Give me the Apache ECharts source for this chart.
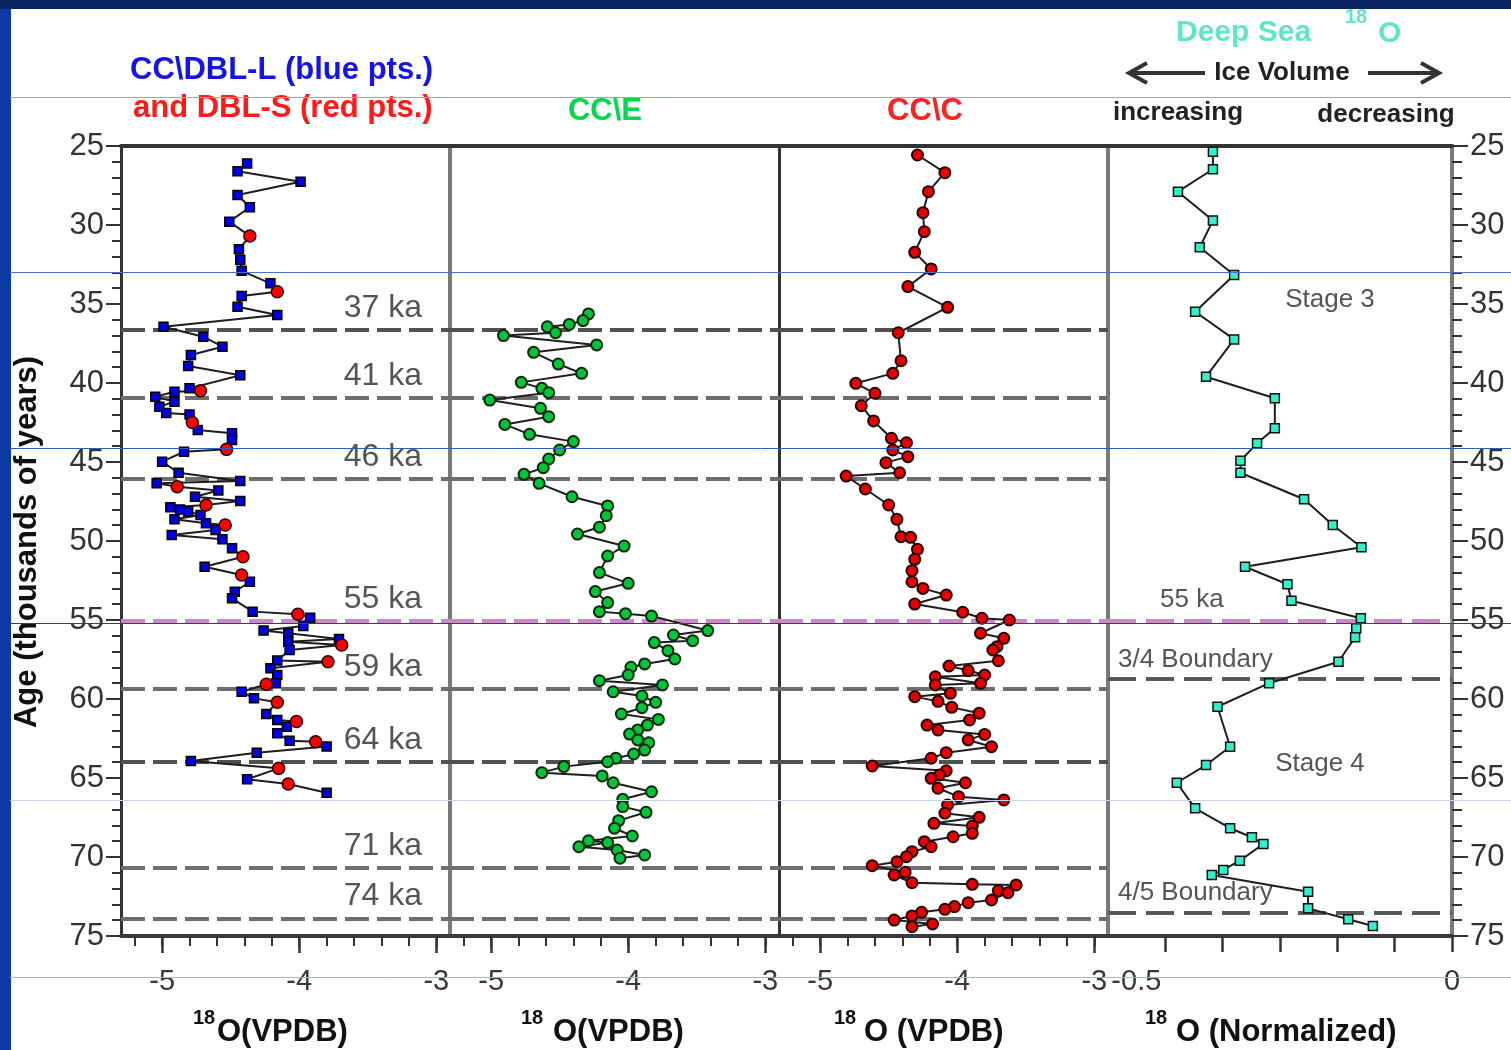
<!DOCTYPE html>
<html>
<head>
<meta charset="utf-8">
<script src="https://cdn.jsdelivr.net/npm/echarts@6/dist/echarts.min.js"></script>
<style>
html,body{margin:0;padding:0;background:#fff;}
#c{width:1511px;height:1050px;}
</style>
</head>
<body>
<div id="c"></div>
<script>
// ---------------- DATA ----------------
// Panel 1: CC\DBL-L (blue) and DBL-S (red): [age ka, d18O VPDB]
const p1Blue = [[26.1,-4.38],[26.6,-4.45],[27.26,-3.99],[28.1,-4.45],[28.88,-4.36],[29.79,-4.51],[31.54,-4.44],[32.2,-4.43],[32.9,-4.42],[33.69,-4.21],
[34.5,-4.42],[35.17,-4.45],[35.7,-4.16],[36.44,-4.99],[37.07,-4.70],[37.7,-4.56],[38.23,-4.79],[38.92,-4.81],[39.51,-4.43],[40.34,-4.80],
[40.55,-4.91],[40.87,-5.05],[41.18,-4.91],[41.5,-5.02],[41.9,-4.97],[42.0,-4.80],[42.97,-4.74],[43.18,-4.49],[43.6,-4.49],[44.35,-4.84],
[44.98,-5.00],[45.68,-4.88],[46.2,-4.43],[46.35,-5.04],[46.8,-4.59],[47.2,-4.76],[47.47,-4.43],[47.87,-4.94],[48.0,-4.87],[48.14,-4.81],
[48.35,-4.72],[48.63,-4.91],[48.88,-4.68],[49.3,-4.61],[49.62,-4.93],[49.89,-4.56],[50.46,-4.49],[51.63,-4.69],[52.58,-4.36],[53.21,-4.47],
[53.63,-4.49],[54.47,-4.34],[54.85,-3.92],[55.38,-3.97],[55.67,-4.26],[55.84,-4.08],[56.2,-3.71],[56.37,-4.08],[56.9,-4.07],[57.57,-4.16],
[58.06,-4.21],[58.48,-4.16],[59.0,-4.17],[59.54,-4.42],[59.96,-4.33],[60.95,-4.24],[61.33,-4.16],[61.75,-4.09],[62.17,-4.16],[62.64,-4.07],
[63.0,-3.80],[63.4,-4.31],[63.92,-4.79],[65.08,-4.38],[65.93,-3.80]];
const p1Red = [[30.7,-4.36],[34.22,-4.16],[40.49,-4.72],[42.5,-4.78],[44.2,-4.53],[46.56,-4.89],[47.72,-4.68],[48.99,-4.54],[51.0,-4.41],[52.15,-4.42],
[54.64,-4.01],[56.58,-3.69],[57.64,-3.79],[59.07,-4.24],[60.2,-4.16],[61.42,-4.02],[62.7,-3.88],[64.39,-4.15],[65.38,-4.08]];

// Panel 2: CC\E
const p2 = [[35.63,-4.29],[36.05,-4.33],[36.29,-4.43],[36.44,-4.59],[36.82,-4.53],[37.0,-4.91],[37.59,-4.23],[38.06,-4.69],[38.8,-4.51],[39.39,-4.34],
[39.96,-4.78],[40.34,-4.63],[40.61,-4.58],[41.08,-5.01],[41.6,-4.64],[42.13,-4.58],[42.62,-4.90],[43.25,-4.72],[43.71,-4.40],[44.24,-4.50],
[44.81,-4.58],[45.36,-4.62],[45.78,-4.76],[46.35,-4.65],[47.2,-4.41],[47.78,-4.15],[48.4,-4.16],[49.13,-4.21],[49.56,-4.37],[50.32,-4.03],
[50.95,-4.15],[52.0,-4.21],[52.68,-4.00],[53.2,-4.24],[53.9,-4.15],[54.47,-4.21],[54.6,-4.02],[54.75,-3.83],[55.67,-3.42],[55.95,-3.67],
[56.31,-3.53],[56.43,-3.81],[56.94,-3.71],[57.47,-3.66],[57.78,-3.88],[57.99,-3.98],[58.48,-4.00],[58.84,-4.21],[59.11,-3.75],[59.54,-4.11],
[59.81,-3.90],[60.21,-3.80],[60.55,-3.90],[60.95,-4.05],[61.29,-3.78],[61.65,-3.86],[61.96,-3.93],[62.22,-3.99],[62.59,-3.93],[62.77,-3.85],
[63.23,-3.88],[63.48,-3.96],[63.75,-4.09],[63.97,-4.15],[64.28,-4.47],[64.66,-4.63],[64.87,-4.19],[65.3,-4.11],[65.87,-3.83],[66.35,-4.04],
[66.81,-4.04],[67.17,-3.87],[67.7,-4.07],[68.18,-4.10],[68.67,-3.97],[68.97,-4.29],[69.09,-4.15],[69.35,-4.36],[69.56,-4.08],[69.87,-3.88],
[70.08,-4.06]];

// Panel 3: CC\C
const p3 = [[25.57,-4.29],[26.69,-4.09],[27.89,-4.21],[29.22,-4.25],[30.42,-4.24],[31.73,-4.31],[32.78,-4.19],[33.9,-4.36],[35.21,-4.07],[36.82,-4.43],
[38.59,-4.41],[39.39,-4.47],[40.02,-4.74],[40.65,-4.60],[41.44,-4.70],[42.4,-4.61],[43.5,-4.48],[43.78,-4.37],[44.24,-4.47],[44.66,-4.36],
[45.04,-4.52],[45.68,-4.42],[45.89,-4.81],[46.71,-4.67],[47.72,-4.50],[48.63,-4.44],[49.73,-4.41],[49.77,-4.34],[50.53,-4.29],[51.16,-4.31],
[51.88,-4.33],[52.58,-4.33],[53.0,-4.25],[53.42,-4.08],[53.99,-4.31],[54.51,-3.96],[54.89,-3.82],[55.0,-3.62],[55.84,-3.83],[56.16,-3.66],
[56.69,-3.71],[56.9,-3.74],[57.58,-3.70],[57.91,-4.06],[58.2,-3.92],[58.48,-3.80],[58.59,-4.16],[59.01,-3.83],[59.11,-4.16],[59.64,-4.05],
[59.85,-4.31],[60.15,-4.14],[60.53,-4.04],[60.9,-3.84],[61.33,-3.91],[61.65,-4.22],[61.96,-4.14],[62.24,-3.80],[62.59,-3.92],[63.02,-3.75],
[63.4,-4.08],[63.75,-4.19],[64.24,-4.62],[64.54,-4.08],[64.81,-4.13],[65.02,-4.19],[65.3,-3.94],[65.65,-4.14],[66.18,-3.99],[66.39,-3.66],
[66.71,-4.07],[67.23,-4.09],[67.49,-3.84],[67.87,-4.17],[68.04,-3.89],[68.5,-3.89],[68.72,-4.03],[69.03,-4.24],[69.35,-4.19],[69.66,-4.33],
[69.98,-4.37],[70.3,-4.44],[70.55,-4.62],[70.97,-4.38],[71.14,-4.46],[71.63,-4.33],[71.73,-3.89],[71.77,-3.57],[72.13,-3.70],[72.26,-3.63],
[72.72,-3.75],[72.89,-3.92],[73.14,-4.02],[73.31,-4.09],[73.5,-4.26],[73.73,-4.33],[73.99,-4.46],[74.24,-4.18],[74.41,-4.33]];

// Panel 4: Deep Sea 18O (normalized)
const p4 = [[25.36,-0.417],[26.47,-0.417],[27.89,-0.478],[29.72,-0.417],[31.41,-0.440],[33.16,-0.380],[35.49,-0.448],[37.24,-0.380],[39.6,-0.429],[40.97,-0.309],
[42.87,-0.309],[43.82,-0.340],[44.92,-0.369],[45.68,-0.369],[47.36,-0.258],[48.99,-0.208],[50.4,-0.158],[51.63,-0.361],[52.74,-0.287],[53.78,-0.280],
[54.89,-0.159],[55.53,-0.167],[56.09,-0.169],[57.64,-0.198],[59.0,-0.319],[60.49,-0.409],[63.02,-0.387],[64.18,-0.429],[65.3,-0.480],[66.92,-0.448],
[68.18,-0.387],[68.75,-0.349],[69.18,-0.329],[70.23,-0.370],[70.82,-0.399],[71.14,-0.419],[72.2,-0.251],[73.25,-0.251],[73.94,-0.181],[74.37,-0.138]];

// Tick values / labels
const vpdbLabels = [-5, -4, -3];
const vpdbMinorTicks = [-5.2,-5.0,-4.8,-4.6,-4.4,-4.2,-4.0,-3.8,-3.6,-3.4,-3.2,-3.0];
const normTicks = [-0.5,-0.4,-0.3,-0.2,-0.1,0];
const normLabels = [-0.5, 0];

// Event lines
const eventAges = [36.65, 40.95, 46.08, 55.06, 59.37, 64.0, 70.7, 73.9];
const eventLabels = ['37 ka','41 ka','46 ka','55 ka','59 ka','64 ka','71 ka','74 ka'];
const stageLineAges = [55.06, 58.7, 73.5];
const stageLineLabels = ['55 ka','3/4 Boundary','4/5 Boundary'];

// ---------------- CHART ----------------
const FONT = '"Liberation Sans", Arial, Helvetica, sans-serif';
const chart = echarts.init(document.getElementById('c'), null, {renderer:'canvas'});

const TOP = 146, H = 790;
const grids = [
  {left:121, top:TOP, width:329, height:H},
  {left:450, top:TOP, width:329, height:H},
  {left:779, top:TOP, width:329, height:H},
  {left:1108, top:TOP, width:344, height:H}
];

const xAxis = [];
for (let g = 0; g < 3; g++) {
  xAxis.push({type:'value', gridIndex:g, position:'bottom', min:-5.3, max:-2.9,
    axisLine:{show:true, onZero:false, lineStyle:{color:'#3a3a3a', width:4}},
    axisTick:{show:true, customValues:vpdbLabels, length:17, lineStyle:{color:'#333', width:2.5}},
    axisLabel:{show:true, customValues:vpdbLabels, margin:31, fontSize:29, color:'#383838', fontFamily:FONT},
    splitLine:{show:false}});
  xAxis.push({type:'value', gridIndex:g, position:'bottom', min:-5.3, max:-2.9,
    axisLine:{show:false, onZero:false},
    axisTick:{show:true, customValues:vpdbMinorTicks, length:10, lineStyle:{color:'#333', width:2}},
    axisLabel:{show:false}, splitLine:{show:false}});
  xAxis.push({type:'value', gridIndex:g, position:'top', min:-5.3, max:-2.9,
    axisLine:{show:true, onZero:false, lineStyle:{color:'#333', width:4}},
    axisTick:{show:false}, axisLabel:{show:false}, splitLine:{show:false}});
}
xAxis.push({type:'value', gridIndex:3, position:'bottom', min:-0.6, max:0,
  axisLine:{show:true, onZero:false, lineStyle:{color:'#3a3a3a', width:4}},
  axisTick:{show:true, customValues:normTicks, length:16, lineStyle:{color:'#333', width:2.5}},
  axisLabel:{show:true, customValues:normLabels, margin:31, fontSize:29, color:'#383838', fontFamily:FONT,
    formatter: v => v < 0 ? '{l|' + v + '}' : '{n|' + v + '}',
    rich:{l:{fontSize:29, color:'#383838', fontFamily:FONT, padding:[0,58,0,0]}, n:{fontSize:29, color:'#383838', fontFamily:FONT}}},
  splitLine:{show:false}});
xAxis.push({type:'value', gridIndex:3, position:'top', min:-0.6, max:0,
  axisLine:{show:true, onZero:false, lineStyle:{color:'#333', width:4}},
  axisTick:{show:false}, axisLabel:{show:false}, splitLine:{show:false}});

const yBase = {type:'value', min:25, max:75, interval:5, inverse:true, splitLine:{show:false}, minorSplitLine:{show:false}};
const yAxis = [
  Object.assign({}, yBase, {gridIndex:0, position:'left',
    axisLine:{show:true, onZero:false, lineStyle:{color:'#333', width:3}},
    axisTick:{show:true, length:15, lineStyle:{color:'#333', width:2}},
    minorTick:{show:true, splitNumber:5, length:9, lineStyle:{color:'#333', width:2}},
    axisLabel:{show:true, margin:17, fontSize:31, color:'#333', fontFamily:FONT}}),
  Object.assign({}, yBase, {gridIndex:1, position:'left',
    axisLine:{show:true, onZero:false, lineStyle:{color:'#7a7a7a', width:4}},
    axisTick:{show:false}, axisLabel:{show:false}}),
  Object.assign({}, yBase, {gridIndex:2, position:'left',
    axisLine:{show:true, onZero:false, lineStyle:{color:'#333', width:3}},
    axisTick:{show:false}, axisLabel:{show:false}}),
  Object.assign({}, yBase, {gridIndex:3, position:'left',
    axisLine:{show:true, onZero:false, lineStyle:{color:'#7a7a7a', width:4}},
    axisTick:{show:false}, axisLabel:{show:false}}),
  Object.assign({}, yBase, {gridIndex:3, position:'right',
    axisLine:{show:true, onZero:false, lineStyle:{color:'#7a7a7a', width:4}},
    axisTick:{show:true, length:16, lineStyle:{color:'#333', width:2}},
    minorTick:{show:true, splitNumber:5, length:10, lineStyle:{color:'#333', width:2}},
    axisLabel:{show:true, margin:18, fontSize:31, color:'#333', fontFamily:FONT}})
];

const toXY = arr => arr.map(d => [d[1], d[0]]);
const p1All = p1Blue.concat(p1Red).sort((a, b) => a[0] - b[0]);

function eventMarks(withLabels) {
  return {
    silent:true, symbol:['none','none'], z:1, animation:false,
    label:{show:withLabels, position:'insideEndTop', distance:[28,6], fontSize:32, color:'#555', fontFamily:FONT},
    data: eventAges.map((a, i) => ({
      yAxis:a,
      lineStyle:{type:[24,8], width:4, color: eventLabels[i] === '55 ka' ? '#c98ac9' : (eventLabels[i] === '64 ka' || eventLabels[i] === '37 ka' ? '#505050' : '#6e6e6e')},
      label:{show:withLabels, formatter:eventLabels[i]}
    }))
  };
}
const stageMarks = {
  silent:true, symbol:['none','none'], z:1, animation:false,
  label:{show:true, position:'insideStartTop', fontSize:26, color:'#555', fontFamily:FONT},
  data: stageLineAges.map((a, i) => ({
    yAxis:a,
    lineStyle:{type:[28,10], width:4, color: stageLineLabels[i] === '55 ka' ? '#c98ac9' : '#5a5a5a'},
    label:{formatter:stageLineLabels[i], distance: stageLineLabels[i] === '55 ka' ? [52,8] : [10,6]}
  }))
};

const series = [
  {type:'line', xAxisIndex:0, yAxisIndex:0, data:toXY(p1All), showSymbol:false, symbol:'none',
   lineStyle:{color:'#1e1e1e', width:2}, z:3, markLine:eventMarks(true), animation:false},
  {type:'scatter', xAxisIndex:0, yAxisIndex:0, data:toXY(p1Blue), symbol:'rect', symbolSize:9,
   itemStyle:{color:'#0000e6', borderColor:'#000', borderWidth:1.5, opacity:1}, z:4, animation:false},
  {type:'scatter', xAxisIndex:0, yAxisIndex:0, data:toXY(p1Red), symbol:'circle', symbolSize:12,
   itemStyle:{color:'#ff0000', borderColor:'#2a0000', borderWidth:1.5, opacity:1}, z:5, animation:false},
  {type:'line', xAxisIndex:3, yAxisIndex:1, data:toXY(p2), symbol:'circle', symbolSize:11, showSymbol:true,
   itemStyle:{color:'#00c43a', borderColor:'#0b2a0b', borderWidth:2}, lineStyle:{color:'#1e1e1e', width:2},
   z:3, markLine:eventMarks(false), animation:false},
  {type:'line', xAxisIndex:6, yAxisIndex:2, data:toXY(p3), symbol:'circle', symbolSize:11, showSymbol:true,
   itemStyle:{color:'#e80000', borderColor:'#2a0000', borderWidth:2}, lineStyle:{color:'#1e1e1e', width:2},
   z:3, markLine:eventMarks(false), animation:false},
  {type:'line', xAxisIndex:9, yAxisIndex:4, data:toXY(p4), symbol:'rect', symbolSize:9, showSymbol:true,
   itemStyle:{color:'#30f0c8', borderColor:'#111', borderWidth:1.5}, lineStyle:{color:'#1e1e1e', width:2},
   z:3, markLine:stageMarks, animation:false}
];

function txt(x, y, text, size, color, bold, align, extra) {
  return Object.assign({type:'text', x:x, y:y, z:50,
    style:{text:text, fontSize:size, fontWeight: bold ? 'bold' : 'normal', fill:color, fontFamily:FONT,
      align: align || 'left', verticalAlign:'middle'}}, extra || {});
}
function hline(y, color) {
  return {type:'line', z:100, silent:true, shape:{x1:10, y1:y, x2:1511, y2:y}, style:{stroke:color, lineWidth:1}};
}

const graphic = [
  // slide frame
  {type:'rect', z:0, shape:{x:0, y:0, width:11, height:1050}, style:{fill:'#0b3aa5'}},
  {type:'rect', z:0, shape:{x:0, y:0, width:1511, height:9}, style:{fill:'#0c2461'}},
  // header
  txt(130, 70, 'CC\\DBL-L (blue pts.)', 31, '#1414e8', true),
  txt(133, 108, 'and DBL-S (red pts.)', 31, '#ff1a1a', true),
  txt(605, 111, 'CC\\E', 31, '#00d94a', true, 'center'),
  txt(925, 111, 'CC\\C', 31, '#ff2020', true, 'center'),
  txt(1176, 33, 'Deep Sea', 30, '#5fe6c8', true),
  txt(1345, 17, '18', 20, '#5fe6c8', true),
  txt(1378, 34, 'O', 30, '#5fe6c8', true),
  txt(1282, 73, 'Ice Volume', 26, '#222', true, 'center'),
  txt(1178, 113, 'increasing', 26, '#222', true, 'center'),
  txt(1386, 115, 'decreasing', 26, '#222', true, 'center'),
  {type:'line', z:50, shape:{x1:1132, y1:73, x2:1205, y2:73}, style:{stroke:'#333', lineWidth:4}},
  {type:'polyline', z:50, shape:{points:[[1147,63],[1129,73],[1147,83]]}, style:{stroke:'#333', lineWidth:4, fill:null}},
  {type:'line', z:50, shape:{x1:1368, y1:73, x2:1436, y2:73}, style:{stroke:'#333', lineWidth:4}},
  {type:'polyline', z:50, shape:{points:[[1421,63],[1439,73],[1421,83]]}, style:{stroke:'#333', lineWidth:4, fill:null}},
  // axis titles
  txt(27, 542, 'Age (thousands of years)', 31, '#111', true, 'center', {rotation:Math.PI/2}),
  txt(193, 1018, '18', 20, '#111', true),
  txt(217, 1032, 'O(VPDB)', 31, '#111', true),
  txt(521, 1018, '18', 20, '#111', true),
  txt(553, 1032, 'O(VPDB)', 31, '#111', true),
  txt(834, 1018, '18', 20, '#111', true),
  txt(864, 1032, 'O (VPDB)', 31, '#111', true),
  txt(1145, 1018, '18', 20, '#111', true),
  txt(1176, 1032, 'O (Normalized)', 31, '#111', true),
  // stage labels
  txt(1330, 300, 'Stage 3', 26, '#555', false, 'center'),
  txt(1320, 764, 'Stage 4', 26, '#555', false, 'center'),
  // slide background rules
  hline(97.5, '#8fa6d8'),
  hline(272.5, '#4a70c8'),
  hline(448.5, '#2f5bbf'),
  hline(623.5, '#1a3fa8'),
  hline(800.5, '#c8d2e8'),
  hline(977.5, '#9fb4e0')
];

chart.setOption({
  animation:false,
  backgroundColor:'#ffffff',
  grid:grids,
  xAxis:xAxis,
  yAxis:yAxis,
  series:series,
  graphic:graphic
});
</script>
</body>
</html>
